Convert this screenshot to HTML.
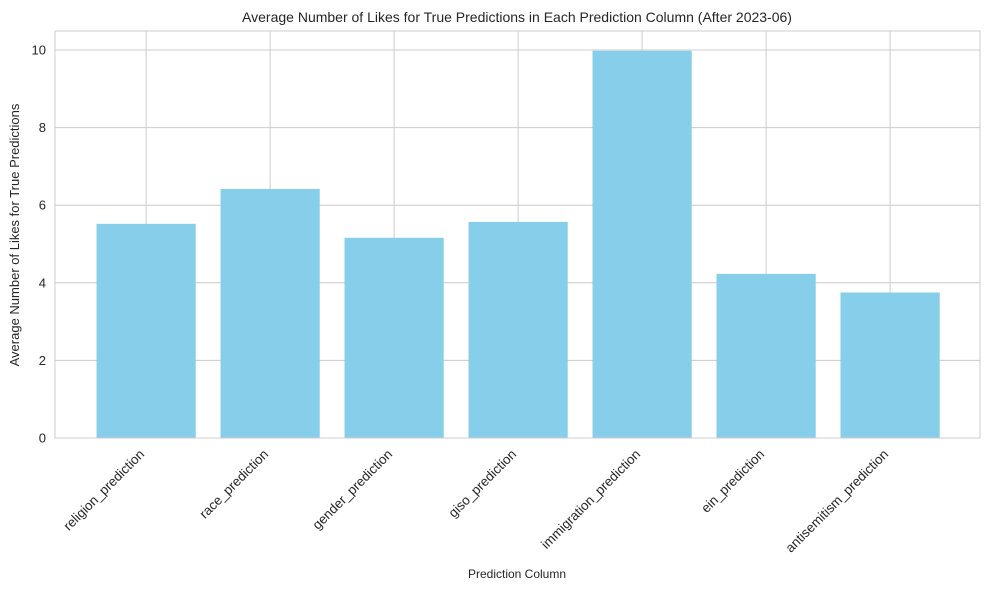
<!DOCTYPE html>
<html><head><meta charset="utf-8"><style>
body{margin:0;background:#fff;font-family:"Liberation Sans",sans-serif}
svg text{font-family:"Liberation Sans",sans-serif;fill:#262626}
</style></head><body>
<svg id="c" width="989" height="590">
<text x="517" y="22" font-size="14" text-anchor="middle">Average Number of Likes for True Predictions in Each Prediction Column (After 2023-06)</text>
<g id="grid"></g><g id="bars"></g><g id="axes"></g>
<text x="517" y="578" font-size="12" text-anchor="middle">Prediction Column</text>
<text transform="translate(19,235) rotate(-90)" font-size="13" text-anchor="middle">Average Number of Likes for True Predictions</text>
</svg>
<script>
const categories=["religion_prediction","race_prediction","gender_prediction","giso_prediction","immigration_prediction","ein_prediction","antisemitism_prediction"];
const values=[5.52,6.42,5.16,5.57,9.98,4.23,3.75];
const yTicks=[0,2,4,6,8,10];
const L=55,R=980,T=31,B=438;
const xlo=-0.735,xhi=6.725,ylo=0;
const y0=438,y10=50;
function xs(i){return L+(i-xlo)/(xhi-xlo)*(R-L);}
function ys(v){return y0+(v-ylo)*(y10-y0)/10;}
const NS="http://www.w3.org/2000/svg";
function mk(t,a,p){const e=document.createElementNS(NS,t);for(const k in a)e.setAttribute(k,a[k]);p.appendChild(e);return e;}
const g=document.getElementById('grid'),b=document.getElementById('bars'),ax=document.getElementById('axes');
yTicks.forEach(v=>{
 const l=mk('line',{x1:L,x2:R,y1:ys(v),y2:ys(v),stroke:'#cccccc','stroke-width':1},g);
 
 
 const t=mk('text',{x:L-9,y:ys(v)+4.5,'font-size':13,'text-anchor':'end'},ax);
 t.textContent=v;
 
 
});
const bw=(R-L)/(xhi-xlo)*0.8;
categories.forEach((c,i)=>{
 const x=xs(i);
 const l=mk('line',{x1:x,x2:x,y1:T,y2:B,stroke:'#cccccc','stroke-width':1},g);
 
 
 const r=mk('rect',{x:x-bw/2,y:ys(values[i]),width:bw,height:ys(0)-ys(values[i]),fill:'#87ceeb'},b);
 
 
 const t=mk('text',{transform:`translate(${x-1},${B+17}) rotate(-45)`,'font-size':13.3,'text-anchor':'end'},ax);
 t.textContent=c;
 
 
});
const f=mk('rect',{x:L,y:T,width:R-L,height:B-T,fill:'none',stroke:'#cccccc','stroke-width':1},ax);


</script>
</body></html>
